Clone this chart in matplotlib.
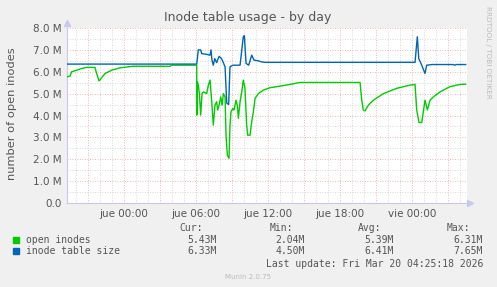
import matplotlib
matplotlib.use("Agg")
import matplotlib.pyplot as plt
import numpy as np

# hours relative to Thursday 00:00, values in millions
open_h = [-4.75, -4.5, -4.36, -3.94, -3.53, -3.11, -2.42, -2.28, -2.08, -1.92, -1.58, -1.03,
          -0.33, 0.75, 3.83, 3.97, 6.06, 6.07, 6.11, 6.19, 6.28, 6.39, 6.5, 6.61, 6.89, 7.03,
          7.17, 7.31, 7.44, 7.58, 7.72, 7.81, 7.92, 8.06, 8.17, 8.28, 8.42, 8.5, 8.61, 8.75,
          8.83, 8.92, 9.06, 9.17, 9.33, 9.44, 9.53, 9.67, 9.81, 9.94, 10.08, 10.22, 10.31,
          10.5, 10.64, 10.78, 10.92, 11.19, 11.61, 12.17, 13.0, 14.11, 14.67, 19.67, 19.81,
          19.94, 20.08, 20.36, 20.78, 21.61, 22.72, 23.83, 24.25, 24.39, 24.58, 24.81, 24.94,
          25.08, 25.28, 25.5, 25.78, 26.33, 27.17, 28.0, 28.47]
open_v = [5.77, 5.8, 6.0, 6.07, 6.15, 6.2, 6.2, 5.92, 5.58, 5.69, 5.92, 6.07,
          6.18, 6.25, 6.25, 6.3, 6.3, 4.02, 5.54, 5.39, 5.0, 4.02, 5.0, 5.08, 5.0, 5.39,
          5.62, 4.63, 3.56, 4.47, 4.63, 4.25, 4.47, 4.85, 4.47, 5.0, 4.85, 3.1, 2.19, 2.04,
          3.56, 4.17, 4.32, 4.25, 4.7, 4.47, 3.87, 4.63, 5.08, 5.62, 5.24, 3.56, 3.1,
          3.1, 3.71, 4.17, 4.78, 5.0, 5.16, 5.27, 5.34, 5.45, 5.51, 5.51, 4.7,
          4.25, 4.21, 4.47, 4.7, 5.0, 5.24, 5.39, 5.42, 4.25, 3.68, 3.68, 4.17,
          4.7, 4.25, 4.7, 4.85, 5.08, 5.32, 5.42, 5.43]

table_h = [-4.75, 6.06, 6.19, 6.39, 6.47, 6.83, 7.17, 7.25, 7.33, 7.44, 7.56, 7.72, 7.92,
           8.08, 8.19, 8.42, 8.56, 8.72, 8.83, 9.06, 9.67, 9.94, 10.03, 10.17, 10.39, 10.64,
           10.83, 11.19, 11.47, 11.75, 24.25, 24.44, 24.56, 24.81, 25.08, 25.22, 25.64,
           27.44, 27.56, 27.67, 28.47]
table_v = [6.35, 6.35, 7.0, 7.0, 6.83, 6.8, 6.76, 7.0, 6.53, 6.3, 6.6, 6.42, 6.7,
           6.63, 6.53, 6.22, 4.57, 4.5, 6.22, 6.3, 6.3, 7.6, 7.65, 6.38, 6.3, 6.76,
           6.53, 6.5, 6.45, 6.43, 6.43, 7.6, 6.6, 6.3, 5.92, 6.3, 6.33,
           6.33, 6.3, 6.33, 6.33]

tick_hours = [0, 6, 12, 18, 24]
tick_labels = ["jue 00:00", "jue 06:00", "jue 12:00", "jue 18:00", "vie 00:00"]

series = ["open inodes", "inode table size"]
colors = ["#00CC00", "#0066B3"]
cur = ["5.43M", "6.33M"]
mins = ["2.04M", "4.50M"]
avg = ["5.39M", "6.41M"]
maxs = ["6.31M", "7.65M"]

W, H = 497, 287
fig = plt.figure(figsize=(W / 100, H / 100), dpi=100, facecolor="#F0F0F0")
ax = fig.add_axes([67 / W, 1 - 203 / H, 400 / W, 175 / H])
ax.set_facecolor("white")

xmin, xmax = -4.75, 28.58
ax.set_xlim(xmin, xmax)
ax.set_ylim(0, 8)

# grid: red major, grey minor
for h in np.arange(-3, 28.01, 3):
    ax.axvline(h, color="#E8A0A0", lw=0.6, ls=(0, (1, 2)), zorder=1)
for h in np.arange(-4, 28.01, 1):
    if h % 3:
        ax.axvline(h, color="#CCCCCC", lw=0.6, ls=(0, (1, 2)), zorder=1)
for v in np.arange(1, 8.01, 1):
    ax.axhline(v, color="#E8A0A0", lw=0.6, ls=(0, (1, 2)), zorder=1)
for v in np.arange(0.5, 8, 1):
    ax.axhline(v, color="#CCCCCC", lw=0.6, ls=(0, (1, 2)), zorder=1)

ax.plot(open_h, open_v, color=colors[0], lw=1, zorder=3)
ax.plot(table_h, table_v, color=colors[1], lw=1, zorder=3)

ax.set_xticks(tick_hours)
ax.set_xticklabels(tick_labels)
ax.set_yticks(range(9))
ax.set_yticklabels(["0.0"] + [f"{v:.1f} M" for v in range(1, 9)])
ax.tick_params(axis="both", length=0, labelsize=7.5, labelcolor="#555555", pad=4)

for s in ["top", "right"]:
    ax.spines[s].set_visible(False)
for s in ["left", "bottom"]:
    ax.spines[s].set_color("#C8C8F0")
    ax.spines[s].set_linewidth(0.8)

# axis arrows
ax.plot([xmin], [8.22], marker="^", ms=4, color="#C8C8F0", clip_on=False)
ax.plot([xmax + 0.25], [0], marker=">", ms=4, color="#C8C8F0", clip_on=False)

fig.text(248 / W, 1 - 18 / H, "Inode table usage - by day", ha="center", va="center",
         fontsize=9, color="#555555")
fig.text(12 / W, 1 - 114 / H, "number of open inodes", rotation=90, ha="center",
         va="center", fontsize=8.2, color="#555555")
fig.text(488 / W, 1 - 52 / H, "RRDTOOL / TOBI OETIKER", rotation=270, ha="center",
         va="center", fontsize=5.2, color="#BBBBBB")

mono = dict(family="DejaVu Sans Mono", fontsize=7, color="#555555")
y_head = 1 - 228 / H
for txt, xr in [("Cur:", 203), ("Min:", 293), ("Avg:", 381), ("Max:", 470)]:
    fig.text(xr / W, y_head, txt, ha="right", va="center", **mono)
for i, name in enumerate(series):
    y = 1 - (240 + 11 * i) / H
    fig.patches.append(plt.Rectangle((13 / W, y - 3 / H), 6 / W, 6 / H,
                                     transform=fig.transFigure, color=colors[i]))
    fig.text(26 / W, y, name, ha="left", va="center", **mono)
    fig.text(217 / W, y, cur[i], ha="right", va="center", **mono)
    fig.text(305 / W, y, mins[i], ha="right", va="center", **mono)
    fig.text(394 / W, y, avg[i], ha="right", va="center", **mono)
    fig.text(483 / W, y, maxs[i], ha="right", va="center", **mono)
fig.text(483 / W, 1 - 264 / H, "Last update: Fri Mar 20 04:25:18 2026", ha="right",
         va="center", **mono)
fig.text(248 / W, 1 - 277 / H, "Munin 2.0.75", ha="center", va="center",
         fontsize=5, color="#BBBBBB")

fig.savefig("out.png", dpi=100, facecolor=fig.get_facecolor())
